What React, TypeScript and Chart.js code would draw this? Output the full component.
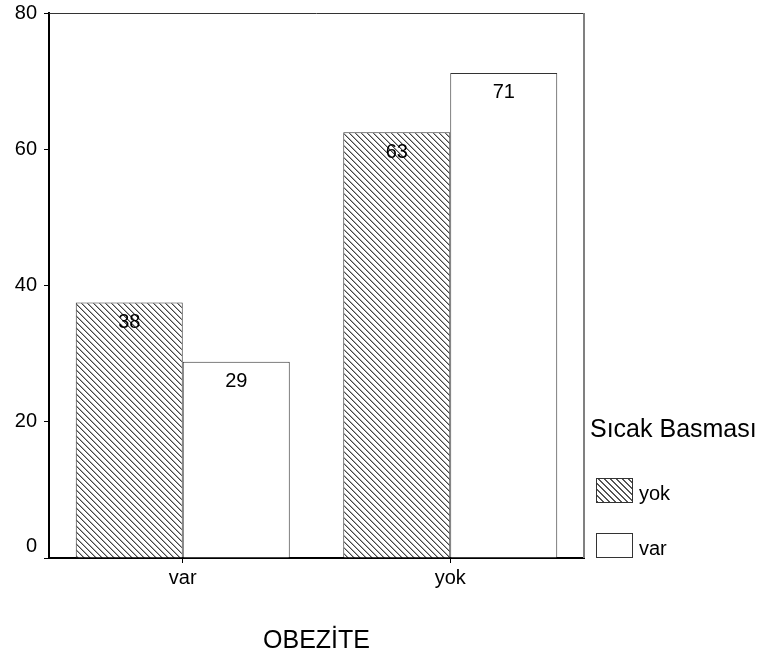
import React, { useEffect, useRef } from 'react';
import { Chart, registerables } from 'chart.js';

Chart.register(...registerables);

const categories = ['var', 'yok'];
const seriesNames = ['yok', 'var'];
const yokValues = [37.5, 62.5];
const varValues = [28.8, 71.2];
const yTicks = [0, 20, 40, 60, 80];
const xTitle = 'OBEZİTE';
const legendTitle = 'Sıcak Basması';

const FONT = "'Liberation Sans', Arial, Helvetica, sans-serif";

function makeHatch(): CanvasPattern | string {
  const c = document.createElement('canvas');
  c.width = 6;
  c.height = 6;
  const g = c.getContext('2d');
  if (!g) return '#fff';
  g.fillStyle = '#fff';
  g.fillRect(0, 0, 6, 6);
  for (let i = 0; i < 6; i++) {
    g.fillStyle = '#444';
    g.fillRect(i, i, 1, 1);
    g.fillStyle = '#aaa';
    g.fillRect((i + 1) % 6, i, 1, 1);
  }
  const p = g.createPattern(c, 'repeat');
  return p || '#fff';
}

const framePlugin = {
  id: 'frame',
  afterDatasetsDraw(chart: any) {
    const { ctx, chartArea } = chart;
    ctx.save();
    ctx.strokeStyle = '#333';
    ctx.lineWidth = 1;
    ctx.beginPath();
    ctx.moveTo(chartArea.left, chartArea.top + 0.5);
    ctx.lineTo(chartArea.right, chartArea.top + 0.5);
    ctx.stroke();
    ctx.strokeStyle = '#808080';
    ctx.lineWidth = 2;
    ctx.beginPath();
    ctx.moveTo(chartArea.right, chartArea.top);
    ctx.lineTo(chartArea.right, chartArea.bottom);
    ctx.stroke();
    ctx.restore();
  },
};

const valueLabelPlugin = {
  id: 'valueLabels',
  afterDatasetsDraw(chart: any) {
    const { ctx } = chart;
    ctx.save();
    ctx.font = `20px ${FONT}`;
    ctx.fillStyle = '#000';
    ctx.textAlign = 'center';
    ctx.textBaseline = 'middle';
    chart.data.datasets.forEach((ds: any, di: number) => {
      const meta = chart.getDatasetMeta(di);
      meta.data.forEach((el: any, i: number) => {
        const v = ds.data[i] as number;
        ctx.fillText(String(Math.round(v)), el.x, el.y + 20);
      });
    });
    ctx.restore();
  },
};

export default function App() {
  const ref = useRef<HTMLCanvasElement | null>(null);

  useEffect(() => {
    if (!ref.current) return;
    const hatch = makeHatch();
    const chart = new Chart(ref.current, {
      type: 'bar',
      data: {
        labels: categories,
        datasets: [
          {
            label: seriesNames[0],
            data: yokValues,
            backgroundColor: hatch as any,
            borderColor: '#333',
            borderWidth: 1,
            categoryPercentage: 0.8,
            barPercentage: 1.0,
          },
          {
            label: seriesNames[1],
            data: varValues,
            backgroundColor: '#ffffff',
            borderColor: '#333',
            borderWidth: 1,
            categoryPercentage: 0.8,
            barPercentage: 1.0,
          },
        ],
      },
      options: {
        responsive: false,
        animation: false,
        layout: { padding: { top: 13, right: 182, left: 0, bottom: 0 } },
        plugins: {
          legend: { display: false },
          tooltip: { enabled: false },
        },
        scales: {
          x: {
            grid: {
              offset: false,
              drawOnChartArea: false,
              drawTicks: true,
              tickLength: 5,
              color: '#000',
            },
            border: { display: true, color: '#000', width: 2 },
            ticks: {
              color: '#000',
              padding: 3,
              font: { size: 20, family: FONT },
            },
            title: {
              display: true,
              text: xTitle,
              color: '#000',
              font: { size: 25, family: FONT },
              padding: { top: 0, bottom: 1 },
            },
            afterFit(scale: any) {
              scale.height = 99;
              scale.paddingLeft = 0;
              scale.paddingRight = 0;
            },
          },
          y: {
            min: 0,
            max: 80,
            afterBuildTicks(scale: any) {
              scale.ticks = yTicks.map((v) => ({ value: v }));
            },
            grid: {
              drawOnChartArea: false,
              drawTicks: true,
              tickLength: 5,
              color: '#000',
            },
            border: { display: true, color: '#000', width: 2 },
            ticks: {
              color: '#000',
              padding: 7,
              font: { size: 20, family: FONT },
              callback: (v: any) => (Number(v) === 0 ? ['0', ''] : String(v)),
            },
            afterFit(scale: any) {
              scale.width = 49;
              scale.paddingTop = 0;
              scale.paddingBottom = 0;
            },
          },
        },
      },
      plugins: [framePlugin, valueLabelPlugin],
    });
    return () => chart.destroy();
  }, []);

  const hatchCss =
    'repeating-linear-gradient(45deg, #555 0px, #555 1px, #fff 1px, #fff 4.24px)';

  return (
    <div style={{ position: 'absolute', left: 0, top: 0, width: 766, height: 657, background: '#fff', fontFamily: FONT, color: '#000' }}>
      <canvas ref={ref} width={766} height={657} style={{ position: 'absolute', left: 0, top: 0 }} />
      <div style={{ position: 'absolute', left: 590, top: 413, fontSize: 25, lineHeight: '30px', whiteSpace: 'nowrap' }}>
        {legendTitle}
      </div>
      <div style={{ position: 'absolute', left: 596, top: 478, width: 37, height: 25, boxSizing: 'border-box', border: '1px solid #333', background: hatchCss }} />
      <div style={{ position: 'absolute', left: 639, top: 481, fontSize: 20, lineHeight: '24px' }}>{seriesNames[0]}</div>
      <div style={{ position: 'absolute', left: 596, top: 533, width: 37, height: 25, boxSizing: 'border-box', border: '1px solid #333', background: '#fff' }} />
      <div style={{ position: 'absolute', left: 639, top: 536, fontSize: 20, lineHeight: '24px' }}>{seriesNames[1]}</div>
    </div>
  );
}
